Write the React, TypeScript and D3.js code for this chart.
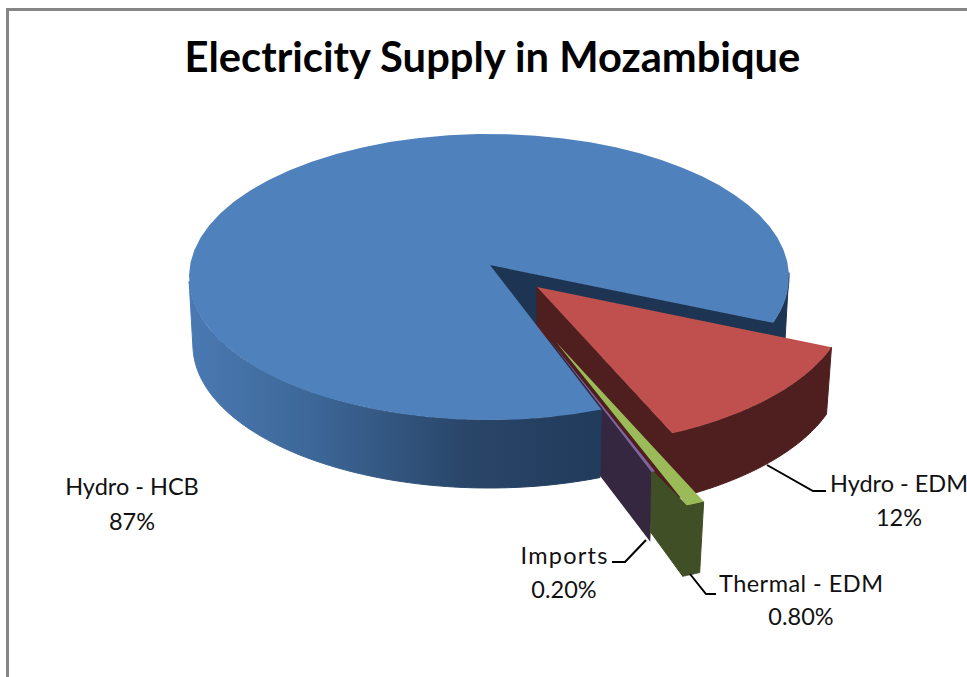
import React from "react";
import * as d3 from "d3";

const title = "Electricity Supply in Mozambique";
const categories = ["Hydro - HCB", "Hydro - EDM", "Thermal - EDM", "Imports"];
const shares = [87, 12, 0.8, 0.2];
const shareLabels = ["87%", "12%", "0.80%", "0.20%"];

const W = 967;
const H = 677;
const deg = Math.PI / 180;
const FONT = "Lato, Carlito, 'Open Sans', sans-serif";

// Projected pie rim: an ellipse, with the pie centre set off from the ellipse centre (perspective).
const rim = { cx: 489, cy: 277, rx: 300, ry: 143 };
const hub: [number, number] = [490, 265];

const slices = d3
  .pie<number>()
  .sort(null)
  .startAngle(158 * deg)
  .endAngle(518 * deg)(shares);

type P = [number, number];
// Perspective foreshortening of the angles around the rim
const warp = (a: number) => a + 2.5 * deg * Math.sin(2 * (a - 158 * deg));
const rimPoint = (a: number, apex: P, k: number): P => {
  const w = warp(a);
  const x = rim.cx + rim.rx * Math.sin(w);
  const y = rim.cy - rim.ry * Math.cos(w);
  return [apex[0] + k * (x - hub[0]), apex[1] + k * (y - hub[1])];
};
const arcPoints = (a0: number, a1: number, apex: P, k: number): P[] =>
  d3.range(0, 61).map((i) => rimPoint(a0 + ((a1 - a0) * i) / 60, apex, k));

const line = d3.line<P>();
const closed = (pts: P[]) => (line(pts) ?? "") + "Z";
const shift = (pts: P[], dx: number, dy: number): P[] => pts.map(([x, y]) => [x + dx, y + dy]);

const wall = (top: P[], bottom: P[]) => closed([...top, ...[...bottom].reverse()]);

const [sHcb, sEdm, sThermal, sImports] = slices;

// Hydro - HCB (main body)
const bluePts = arcPoints(sHcb.startAngle, sHcb.endAngle, hub, 1);
const blueDepth = 68;
const blueBottom = (a0: number, a1: number): P[] =>
  arcPoints(a0, a1, hub, 1).map(([x, y]) => [hub[0] + (x - hub[0]) * 0.987, y + blueDepth]);
const blueFrontA: [number, number] = [sHcb.startAngle, 270 * deg];
const blueBackA: [number, number] = [450 * deg, sHcb.endAngle];
const blueEnd = rimPoint(sHcb.endAngle, hub, 1);

// Hydro - EDM
const edmApex: P = [537, 287];
const edmK = 1.04;
const edmPts = arcPoints(sEdm.startAngle, sEdm.endAngle, edmApex, edmK);
const edmEnd = edmPts[edmPts.length - 1];

// Thermal - EDM
const thApex: P = [556, 342];
const thK = 1.135;
const thPts = arcPoints(sThermal.startAngle, sThermal.endAngle, thApex, thK);
const thDepth = 71;

// Imports
const imApex: P = [549, 339];
const imK = 0.92;
const imPts = arcPoints(sImports.startAngle, sImports.endAngle, imApex, imK);
const imEnd = imPts[30];

const Label = ({ x, y, children, anchor = "middle", fit }: any) => (
  <text
    x={x}
    y={y}
    textAnchor={anchor}
    fontFamily={FONT}
    fontSize={23.5}
    fill="#111"
    textLength={fit}
    lengthAdjust={fit ? "spacing" : undefined}
  >
    {children}
  </text>
);

export default function App() {
  const thIn = thPts[60];
  return (
    <svg
      width={W}
      height={H}
      viewBox={`0 0 ${W} ${H}`}
      style={{ position: "absolute", left: 0, top: 0, display: "block", background: "#fff" }}
    >
      <defs>
        <linearGradient id="blueWall" gradientUnits="userSpaceOnUse" x1={189} x2={620} y1={0} y2={0}>
          <stop offset="0" stopColor="#4a79b2" />
          <stop offset="0.3" stopColor="#3c6696" />
          <stop offset="0.65" stopColor="#294568" />
          <stop offset="1" stopColor="#1f3a5a" />
        </linearGradient>
      </defs>

      <rect x={6} y={8} width={3} height={H - 8} fill="#868686" />
      <rect x={6} y={8} width={W - 6} height={3} fill="#868686" />

      <text
        x={492.5}
        y={72}
        textAnchor="middle"
        fontFamily={FONT}
        fontWeight={700}
        fontSize={41.7}
        fill="#000"
      >
        {title}
      </text>

      {/* blue: cut face and rear rim wall */}
      <g fill="#1d3552" stroke="#1d3552" strokeWidth={1}>
        <path
          d={closed([hub, blueEnd, [blueEnd[0], blueEnd[1] + blueDepth], [hub[0], hub[1] + blueDepth]])}
        />
        <path
          d={wall(arcPoints(blueBackA[0], blueBackA[1], hub, 1), blueBottom(blueBackA[0], blueBackA[1]))}
        />
      </g>

      {/* Hydro - EDM */}
      <g fill="#4f1f1f" stroke="#4f1f1f" strokeWidth={1}>
        <path
          d={closed([edmApex, edmEnd, [edmEnd[0], edmEnd[1] + 62], [edmApex[0], edmApex[1] + 62]])}
        />
        <path d={wall(edmPts, shift(edmPts, -5, 67))} />
      </g>
      <path d={closed([edmApex, ...edmPts])} fill="#c0504d" />

      {/* Imports side */}
      <path
        d={closed([imApex, imEnd, [imEnd[0] - 3, imEnd[1] + 70], [imApex[0], imApex[1] + 70]])}
        fill="#35273f"
      />

      {/* Thermal side */}
      <g fill="#404f25" stroke="#404f25" strokeWidth={1}>
        <path
          d={closed([
            thIn,
            [thIn[0] - 35, thIn[1] - 35],
            [thIn[0] - 36, thIn[1] + 27],
            [thIn[0] - 4, thIn[1] + thDepth],
          ])}
        />
        <path d={wall(thPts, shift(thPts, -4, thDepth))} />
      </g>

      {/* blue: front wall and top */}
      <path
        d={wall(arcPoints(blueFrontA[0], blueFrontA[1], hub, 1), blueBottom(blueFrontA[0], blueFrontA[1]))}
        fill="url(#blueWall)"
        stroke="url(#blueWall)"
        strokeWidth={1}
      />
      <path d={closed([hub, ...bluePts])} fill="#4f81bd" />

      {/* thin top faces */}
      <path d={closed([imApex, ...imPts])} fill="#8064a2" />
      <path d={closed([thApex, ...thPts])} fill="#9bbb59" />

      {/* leaders */}
      <g fill="none" stroke="#000" strokeWidth={2}>
        <path d={line([[767, 465], [813, 491], [826, 491]] as P[]) ?? ""} />
        <path d={line([[646, 540], [625, 562], [612, 562]] as P[]) ?? ""} />
        <path d={line([[690, 574], [706, 594], [716, 594]] as P[]) ?? ""} />
      </g>

      <Label x={132} y={495}>{categories[0]}</Label>
      <Label x={132} y={530}>{shareLabels[0]}</Label>
      <Label x={899} y={492}>{categories[1]}</Label>
      <Label x={899} y={526}>{shareLabels[1]}</Label>
      <Label x={801} y={592} fit={164}>{categories[2]}</Label>
      <Label x={801} y={625}>{shareLabels[2]}</Label>
      <Label x={564} y={564} fit={87}>{categories[3]}</Label>
      <Label x={564} y={598}>{shareLabels[3]}</Label>
    </svg>
  );
}
